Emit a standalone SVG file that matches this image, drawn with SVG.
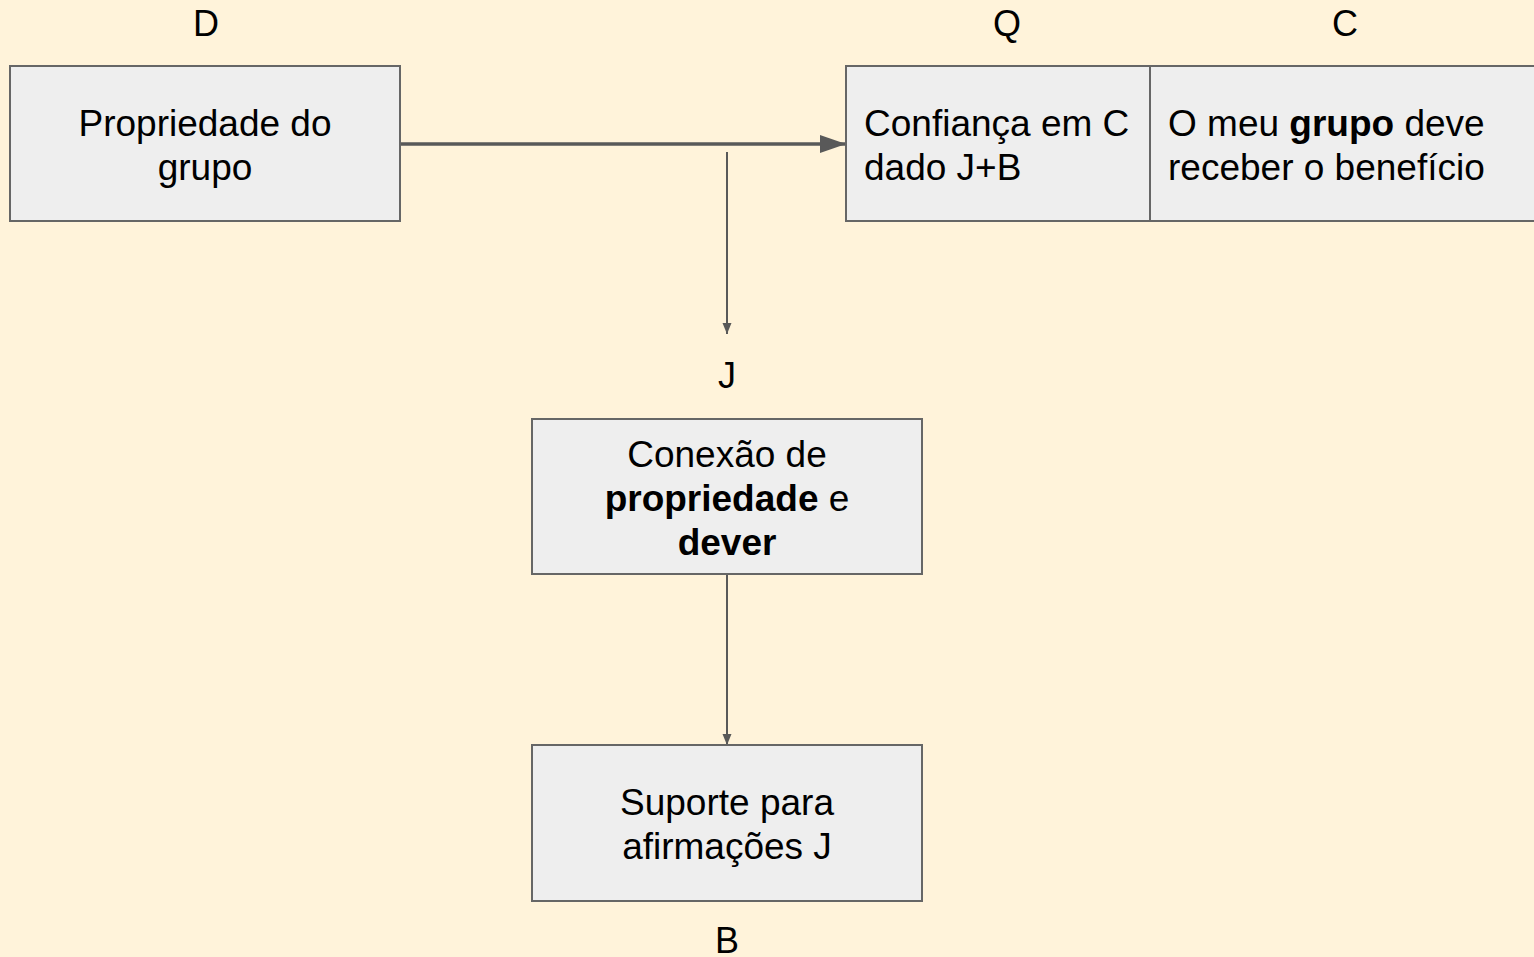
<svg xmlns="http://www.w3.org/2000/svg" width="1534" height="957" viewBox="0 0 1534 957">
<style>
.box{fill:#eeeeee;stroke:#666666;stroke-width:2}
.t{font-family:"Liberation Sans",Arial,sans-serif;font-size:37px;fill:#000}
.c{text-anchor:middle}
.b{font-weight:bold}
.lbl{font-family:"Liberation Sans",Arial,sans-serif;font-size:36px;fill:#000;text-anchor:middle}
</style>
<defs>
<marker id="big" markerUnits="userSpaceOnUse" markerWidth="26" markerHeight="20" refX="26" refY="9" orient="auto">
<path d="M0,0 L26,9 L0,18 Z" fill="#595959"/>
</marker>
<marker id="small" markerUnits="userSpaceOnUse" markerWidth="12" markerHeight="10" refX="11" refY="4.5" orient="auto">
<path d="M0,0 L11,4.5 L0,9 Z" fill="#595959"/>
</marker>
</defs>
<rect width="1534" height="957" fill="#fff3da"/>
<g id="labels">
<text class="lbl" x="206" y="36">D</text>
<text class="lbl" x="1007" y="36">Q</text>
<text class="lbl" x="1345" y="36">C</text>
<text class="lbl" x="727" y="388">J</text>
<text class="lbl" x="727" y="953">B</text>
</g>
<g id="connectors" stroke="#595959" fill="none">
<line x1="401" y1="144" x2="846" y2="144" stroke-width="3.5" marker-end="url(#big)"/>
<line x1="727" y1="152" x2="727" y2="334" stroke-width="2" marker-end="url(#small)"/>
<line x1="727" y1="575" x2="727" y2="745" stroke-width="2" marker-end="url(#small)"/>
</g>
<g id="node-D">
<rect class="box" x="10" y="66" width="390" height="155"/>
<text class="t c" x="205" y="136">Propriedade do</text>
<text class="t c" x="205" y="180">grupo</text>
</g>
<g id="node-Q">
<rect class="box" x="846" y="66" width="304" height="155"/>
<text class="t" x="864" y="136">Confiança em C</text>
<text class="t" x="864" y="180">dado J+B</text>
</g>
<g id="node-C">
<rect class="box" x="1150" y="66" width="392" height="155"/>
<text class="t" x="1168" y="136">O meu <tspan class="b">grupo</tspan> deve</text>
<text class="t" x="1168" y="180">receber o benefício</text>
</g>
<g id="node-J">
<rect class="box" x="532" y="419" width="390" height="155"/>
<text class="t c" x="727" y="467">Conexão de</text>
<text class="t c" x="727" y="511"><tspan class="b">propriedade</tspan> e</text>
<text class="t c b" x="727" y="555">dever</text>
</g>
<g id="node-B">
<rect class="box" x="532" y="745" width="390" height="156"/>
<text class="t c" x="727" y="815">Suporte para</text>
<text class="t c" x="727" y="859">afirmações J</text>
</g>
</svg>
